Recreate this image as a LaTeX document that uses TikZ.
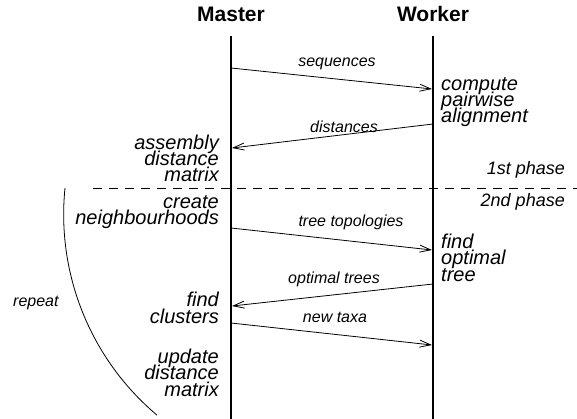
\documentclass[tikz,border=0pt]{standalone}
\usepackage{fontspec}
\setmainfont{Liberation Sans}
\usetikzlibrary{arrows.meta}
\newcommand\tightlines{\lineskiplimit=-50pt\relax}
\tikzset{
  lifeline/.style={line width=1.7pt},
  msg/.style={line width=0.8pt,-{Straight Barb[length=11pt,width=7pt,line width=0.8pt]}},
  title/.style={inner sep=0pt,font=\fontsize{21}{21}\selectfont\bfseries},
  bigtext/.style={inner sep=0pt,font=\fontsize{20}{16.2}\selectfont\itshape\tightlines},
  phasetext/.style={inner sep=0pt,font=\fontsize{18}{18}\selectfont\itshape},
  lbl/.style={inner sep=0pt,font=\fontsize{16}{16}\selectfont\itshape},
}
\begin{document}
\tightlines
\begin{tikzpicture}[x=1pt,y=-1pt]
\useasboundingbox (0,0) rectangle (577,419);
% titles
\node[title,anchor=base] (master) at (231,22) {Master};
\node[title,anchor=base] (worker) at (433,22) {Worker};
% lifelines
\coordinate (mtop) at (231,36);
\coordinate (mbot) at (231,419);
\coordinate (wtop) at (433,36);
\coordinate (wbot) at (433,419);
\draw[lifeline] (mtop) -- (mbot);
\draw[lifeline] (wtop) -- (wbot);
% phase separator
\coordinate (dl) at (93,188);
\coordinate (dr) at (577,188);
\draw[line width=0.8pt,dash pattern=on 9pt off 7pt] (dl) -- (dr);
\node[phasetext,anchor=base east] (p1) at (565,175) {1st phase};
\node[phasetext,anchor=base east] (p2) at (565,207) {2nd phase};
% activity texts (base = baseline of the last line)
\node[bigtext,anchor=base west,align=left] (compute) at (441,123) {compute\\pairwise\\alignment};
\node[bigtext,anchor=base east,align=right] (assembly) at (219,182) {assembly\\distance\\matrix};
\node[bigtext,anchor=base east,align=right] (create) at (219,225) {create\\neighbourhoods};
\node[bigtext,anchor=base west,align=left] (findopt) at (441,281) {find\\optimal\\tree};
\node[bigtext,anchor=base east,align=right] (findcl) at (219,323) {find\\clusters};
\node[bigtext,anchor=base east,align=right] (update) at (219,396) {update\\distance\\matrix};
% messages
\coordinate (m1) at (231,68);  \coordinate (w1) at (432,89);
\coordinate (w2) at (433,124); \coordinate (m2) at (232,148);
\coordinate (m3) at (231,228); \coordinate (w3) at (432,250);
\coordinate (w4) at (433,284); \coordinate (m4) at (232,306);
\coordinate (m5) at (231,323); \coordinate (w5) at (432,345);
\draw[msg] (m1) -- (w1);
\draw[msg] (w2) -- (m2);
\draw[msg] (m3) -- (w3);
\draw[msg] (w4) -- (m4);
\draw[msg] (m5) -- (w5);
\node[lbl,anchor=base] (l1) at (337,67) {sequences};
\node[lbl,anchor=base] (l2) at (344,133) {distances};
\node[lbl,anchor=base] (l3) at (351,227) {tree topologies};
\node[lbl,anchor=base] (l4) at (334,283) {optimal trees};
\node[lbl,anchor=base] (l5) at (335,322) {new taxa};
% repeat arc
\coordinate (arcstart) at (65,188);
\draw[line width=0.8pt] (arcstart) arc[start angle=185.8, end angle=130.1, radius=262.3];
\node[lbl,anchor=base west] (repeat) at (13,306) {repeat};
\end{tikzpicture}
\end{document}
